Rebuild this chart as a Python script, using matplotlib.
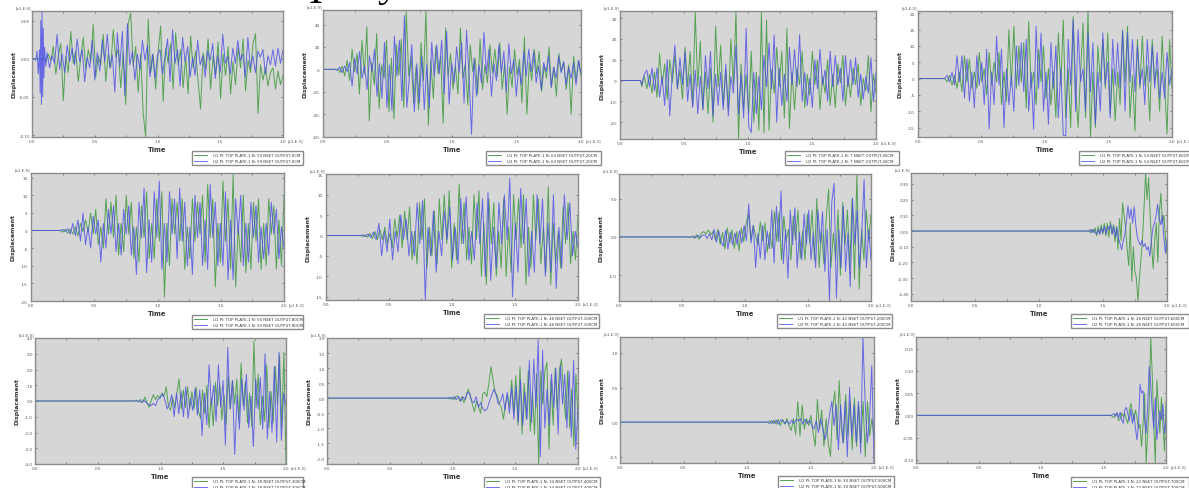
import numpy as np
import matplotlib
matplotlib.use('Agg')
import matplotlib.pyplot as plt

W, H = 1189, 489

# panel 1: 0cm
p1_onset = [0.10, 0.12]
p1_burst_t = [0.0, 0.02, 0.03, 0.04, 0.05, 0.06, 0.065, 0.07, 0.075, 0.08, 0.085, 0.09, 0.095, 0.10, 0.11]
p1_burst = [0, 0, -.002, .010, -.020, .012, -.045, .050, -.060, .0626, -.050, .040, -.025, .015, -.010]
p1_u1 = [-.004,.006,-.002,.016,-.020,.004,.020,-.055,.003,-.018,
         .036,-.006,.010,-.030,.002,.028,-.014,.012,-.004,.045,
         -.024,.004,-.008,.032,-.030,.006,-.012,.038,.002,.012,
         -.038,.008,-.060,.046,.060,-.010,.016,-.044,.006,-.072,
         -.1026,.052,-.018,.006,-.040,.010,.043,-.056,.014,-.006,
         .020,-.040,.034,-.008,.012,-.038,.002,-.046,.030,-.012,
         .010,-.030,-.066,.008,-.014,.026,-.040,.004,-.020,.022,
         -.052,.006,-.022,.016,-.046,-.004,-.034,.014,-.012,.026,
         -.042,-.002,-.018,.020,.033,-.072,-.008,-.028,-.012,-.036,
         -.018,-.012,-.040,-.016,-.034,-.022]
p1_u2 = [.008,-.012,.004,-.006,.032,-.014,.006,-.018,.018,-.004,
         .014,-.008,.026,-.004,.012,-.030,.002,-.012,.024,-.028,
         .008,-.016,.024,-.004,.032,-.012,.005,-.044,.034,-.010,
         .036,-.048,.046,-.008,.010,-.028,.006,-.014,.024,-.002,
         .018,-.024,.006,-.026,.004,.012,-.020,.003,.026,-.030,
         .038,-.006,.012,-.036,.028,-.004,.016,-.024,.002,-.022,
         .024,-.008,.004,-.024,.010,-.002,.020,-.026,.004,-.018,
         .032,-.006,.003,-.020,.014,-.006,.024,-.002,.006,-.024,
         .028,-.012,.004,-.018,.010,.002,.012,-.020,.004,-.008,
         .012,-.010,.014,-.006,.012]

# panel 2: 20cm
p2_onset = [0.12, 0.10]
p2_u1 = [-3,3,-6,8,-10,18,-2,14,-22,26,
         -4,38,-46,6,-14,32,-35,4,-8,26,
         -38,10,-44,22,-5,27,-34,52,-6,12,
         -30,3,-36,24,-10,52,-50,8,-26,20,
         -4,12,-48,37,-6,14,-18,3,-22,37,
         -8,5,-32,22,-2,10,-22,27,-18,4,
         -12,22,-3,18,-6,24,-18,6,-40,2,
         -16,18,-5,9,-30,29,-40,6,-10,18,
         -4,16,-20,3,-8,20,-16,2,-24,14,
         -2,6,-18,4,-40,12,-10,8,-6]
p2_u2 = [-1,2,-3,3,-2,6,-15,10,-4,16,
         -8,3,-18,12,-2,18,-24,5,-26,24,
         -34,4,-37,30,-6,26,-28,48,-34,-8,
         22,-38,5,-30,12,-36,4,-34,24,-6,
         22,-4,26,-22,34,-31,6,-12,20,-3,
         24,-30,35,-6,-58,10,-24,4,-12,33,
         -4,18,-24,5,-10,22,-3,16,-20,23,
         -4,9,-24,3,-14,16,-6,18,-2,16,
         -12,3,-18,6,-2,12,-16,2,-8,12,
         -3,7,-14,2,-8,6,-14,8,-4]

# panel 3: 40cm
p3_onset = [0.16, 0.16]
p3_u1 = [-3,2,-4,3,-6,4,-8,13,-2,8,
         -9,10,-1,12,-4,5,-9,16,-3,14,
         -12,33,-3,19,-14,4,-16,6,-20,26,
         -3,17,-12,5,-14,20,-2,33,-28,8,
         -14,3,-16,14,-20,4,-24,33,-25,29,
         -24,5,-6,16,-3,14,-18,25,-23,4,
         -14,6,-2,14,-13,3,-7,14,-2,10,
         -14,2,-6,10,-12,3,-13,8,-1,12,
         -12,2,-8,6,-2,8,-12,1,-5,12,-15,3,-6]
p3_u2 = [-2,3,5,-3,6,-5,6,-8,2,-12,
         10,-17,3,17,-4,11,-2,14,-10,3,
         -13,5,-16,2,-14,12,-4,14,-17,3,
         -12,4,-14,8,-17,2,-6,17,-16,3,
         -18,25,-22,-25,4,-16,2,-14,12,-3,
         18,-4,22,-20,6,-12,3,-10,16,-2,
         15,-3,22,-10,4,-12,1,-13,10,-4,
         15,-2,5,-10,14,-3,12,-2,6,-10,
         12,-3,10,-2,11,-8,3,-9,2,-6,11,-10,4]

# panel 4: 60cm
p4_onset = [0.20, 0.20]
p4_u1 = [0,-1,1,-2,1,-3,2,-4,7,-1,
         6,-3,2,-3,8,-1,3,-5,8,-2,
         5,-1,8,-8,2,-7,15,-2,16,-3,
         10,-1,11,-9,17.5,-3,2,-8,9,-1,
         10,-6,3,-8,2,-12,14,-2,18,-12,
         3,-15,19,-3,-15,2,17,-12,20.7,-17.9,
         2,-15,10,-1,12,-3,14,-11,3,-13,
         2,-8,15,-1,16,-12,1,-16,12,-3,
         13,-2,4,-13,12,-1,3,-10,13,-2,-17,12,-3]
p4_u2 = [0,1,-1,2,-2,7,-1,7,-6,6,
         -7,2,-9,7,-2,5,-8,9,-15.5,2,
         -8,13,-2,9,-15,3,-8,1,-10,10,
         -2,11,-4,12,-10,2,-15.5,16,-3,14,
         -10,2,-14,11,-3,10,-12,3,-17.5,-17.5,
         12,-2,18,-10,15,-1,3,-10,14,-4,
         11,-14,2,-10,14,-2,5,-12,12,-2,
         11,-3,14.5,-10,14,-1,12,-4,10,-2,
         3,-8,12,-1,10,-3,8,-6,2,-6,8,-2,3]

# panel 5: 80cm
p5_onset = [0.22, 0.22]
p5_u1 = [0,-.5,.3,-.8,.4,-1,1,-1.5,2,-.3,
         3,-.5,5,-1,6,-4,1,-5,9,-1,
         8,-2,10,-7,2,-6,10,-1,8,-8,
         1,-9,7,-2,11,-8,2,-8,9,-3,
         11,-19,2,-10,9,-1,8,-3,9,-11,
         1,-8,9,-3,8,-1,10,-9,13,-2,
         9,-16,2,-9,14,-3,9,-11,16,-16,
         1,-9,10,-12,2,-11,8,-3,9,-11,
         2,-10,9,-1,7,-11,3,-10,10]
p5_u2 = [0,.3,-.3,.5,-1,2,-1.5,3,-3,5,
         -4,1,-5,4,-1,3,-9,2,-5,6,
         -1,7,-6,2,-7,6,-1,7,-7,1,
         -12.5,8,-2,12,-12,3,-9,11,-2,14,
         -11,2,-9,11,-1,9,-8,12,-3,8,
         -10,1,-12.5,10,-2,8,-10,3,-11,13,
         -2,8,-10,2,-10,11,-14,3,-14,9,
         -1,10,-10,2,-9,8,-2,7,-9,1,
         -8,2,-7,8,-1,6,-8,1,-5]

# panel 6: 100cm
p6_onset = [0.28, 0.28]
p6_u1 = [-.3,.2,-.4,.5,-.8,1,-1,1.5,-1,2,
         -2,.5,-3,4,-.5,5,-3,6,-1,7,
         -6,1,-7,8,-1,9,-8,2,-5,6,
         -7,9,-1,10,-2,11,-8,3,-6,12.5,
         -2,8,-6,2,-7,10,-1,11,-10,3,
         -12,9,-2,8,-10,1,-8,9,-10,2,
         -9,10,-1,9,-3,10,-12,2,-8,10,
         -1,9,-7,2,-9,12,-12,3,-7,1,
         -8,7,-2,8,-7,1,-6,5]
p6_u2 = [.2,-.3,.4,-.5,.8,-1,3,-5,1,-4,
         4,-6,1,-4,5,-1,4,-5,1,-5,
         8,-2,8.5,-15.8,2,-5,6,-9,1,-5,
         6,-1,7,-6,2,-7,9,-2,9.5,-6,
         1,-6,8,-2,9,-10,10.5,-11,2,-8,
         8,-2,10,-1,14,-15,3,-9,11.5,-2,
         9,-10,1,-9,10,-2,9,-10,3,-9,
         10,-13,2,-8,10,-1,8,-5,1,-3]

# panel 7: 200cm
p7_onset = [0.55, 0.58]
p7_u1 = [-.1,.1,-.2,.3,-.3,.5,.7,.4,.9,.3,
         .7,-.4,1,-1,.6,-1.6,1.2,-.8,.9,-1.5,
         .7,-1.8,1.2,-.6,1.8,3,-.4,1.5,.2,-1,
         2,-.5,1.8,-2,.5,-1.5,3.3,-.6,3.2,-3,
         2.7,-.5,1,-3,2.7,-.4,3.5,-2.8,.8,-3,
         3,-.8,3.5,-3,5,-4,.8,-3.5,2.5,6.2,
         -4,.5,-3,3.5,-5,4.5,-1,3.5,-4,5,
         -5.5,8.2,-6.8,1,-3,3.5,-.5,3]
p7_u2 = [.1,-.1,.2,-.1,.2,.3,-.2,.4,-.4,1,
         -.7,.8,-.6,-1.2,.9,-1.6,.6,-1,.5,-1,
         .8,-.8,1.5,-.5,4.3,-.8,1.5,-4,.5,-2.8,
         1.5,-3,.8,-1.5,3.5,-3.4,4,-.6,6,-3.5,
         1,-5.4,3.5,-1,3.8,-4,.6,-3,3,-1,
         3.5,-3,.5,-4,3.5,-.8,3.3,-4.5,1,-8.3,
         4.5,7,-8,1,-4,4,-4.5,.5,-6.5,5,
         -1,3.5,-4,.5,7.5,-4,1,-3]

# panel 8: 400cm
p8_onset = [1.38, 1.38]
p8_u1 = [0,-.01,.01,-.01,.02,-.03,.03,-.02,.04,-.02,
         .05,-.03,.05,-.04,.06,-.02,.04,-.07,.03,-.12,
         .08,-.06,.18,.10,.02,-.12,-.22,.05,-.32,-.10,
         -.25,-.30,-.445,-.30,-.18,-.05,.15,.369,.20,.34,
         .10,-.10,-.24,-.05,.05,-.20,.12,.24,.05,.10,-.05,-.15]
p8_u2 = [0,.01,-.01,.01,-.01,-.02,.01,-.02,.02,-.01,
         .03,-.02,.03,.01,.04,-.02,.03,-.04,.02,-.05,
         -.08,-.12,-.06,-.02,.06,.16,.08,.14,.05,.155,
         .04,-.04,-.07,-.09,-.06,-.10,-.08,-.12,-.10,-.16,
         -.06,.02,.05,.10,.17,.08,.04,.10,-.05,-.14,-.05]

# panel 9: 300cm
p9_onset = [0.78, 0.82]
p9_u1 = [0,.05,-.05,.1,-.1,.25,-.1,-.4,.05,.4,.1,.35,
         .2,.5,.3,.9,-.3,-.6,.2,-.4,.5,1.4,-.5,.7,-.4,.9,
         -.5,.6,-.5,.9,-.6,-1.1,.7,-.8,1,-1.7,.2,-1.6,1.2,-.3,
         1.1,-1.2,.4,-1.5,1.6,-.5,1.3,-.2,1.4,-1.2,2.4,-.3,1.2,-1.4,
         .5,-1.6,3.8,-.4,1.7,-1.5,.3,-1.3,2.3,-1.7,.6,-1.4,2.2,-.2,
         2.9,-1.6,3.1,-4]
p9_u2 = [0,-.1,.05,-.1,-.2,-.3,-.15,-.3,.1,.2,.45,.1,-.5,-.2,.4,
         -1,.5,-.8,.6,-1,.9,-1.1,.2,-.6,.8,-.9,.7,-2.2,.5,-1.5,
         2.3,-.3,1,-1.3,2.3,-.4,1.3,-2.8,3.4,-.5,1.3,-3.4,.4,-1.8,
         1.4,-.6,1.7,-1.7,.3,-2.9,1.4,-.5,1.5,-1.8,3,-2.4,.6,-2,2.2,-2.6,3.1,-2.5,.5,-.3]

# panel 10: 600cm
p10_onset = [0.95, 0.95]
p10_u1 = [0,-.03,.03,-.05,.05,.08,-.1,.05,-.15,.05,.3,.1,-.2,-.45,-.1,-.3,-.5,.15,
          .2,.05,.5,1.05,.6,.2,.1,-.2,-.3,-.7,-.2,.1,-.3,.6,-.5,.75,-.9,1.05,-1.2,.5,-.7,.9,
          -1.1,.2,-1.2,.8,-2.19,.9,-.2,.9,1.2,-1.7,.6,-.9,1.0,-.4,.9,1.3,.2,-.7,.9,-1,.3,-1.6,.8,-.7]
p10_u2 = [0,.03,-.03,.05,-.05,.05,-.1,.05,-.05,.2,.15,-.1,-.15,.05,-.3,-.15,-.35,-.42,
          -.35,-.1,.1,.3,.1,-.2,-.1,.15,-.4,.2,-.5,.35,-.7,.4,-.8,.6,-.9,.2,-.7,1.25,
          -.8,1.3,-.3,1.95,-1.95,1.6,-1.0,.3,-.9,.8,-.3,1.0,-1.2,1.1,-.2,.8,-1,.9,-1.3,1.25,-1.7,-.3]

# panel 11: 500cm
p11_onset = [1.15, 1.15]
p11_u1 = [0,.02,-.02,.03,-.03,.04,-.05,.04,-.03,.05,-.06,-.12,.05,-.18,.3,-.2,.25,-.1,.05,
          -.05,.1,-.15,-.35,.33,-.1,.18,-.35,.05,-.3,-.5,.2,.45,-.25,.6,-.1,-.3,.4,-.2,
          .3,-.4,.35,-.35,.25,-.3,.3,-.5,.3,-.2,.05,-.2]
p11_u2 = [0,-.02,.02,-.02,.03,-.03,.03,.02,-.02,.02,-.03,.03,-.02,.04,.02,.05,-.03,.04,-.02,
          .03,-.05,-.1,.02,-.15,.05,-.1,-.25,-.1,.1,.3,-.05,.25,-.4,.25,-.3,.3,-.5,.5,-.2,.25,
          -.3,.3,-.45,1.23,.3,-.3,.05,.82,-.59]

# panel 12: 700cm
p12_onset = [1.55, 1.55]
p12_u1 = [0,-.003,-.005,.003,.004,-.012,-.008,.006,-.003,.005,-.01,-.018,.01,.027,.008,-.012,.012,-.005,
          -.03,-.02,-.07,-.02,.05,-.107,-.04,.02,.176,.09,-.02,-.107,.08,.02,-.04,.04,-.02,-.08,.03]
p12_u2 = [0,.002,.004,-.002,.006,-.006,.007,-.01,-.018,.012,.018,.004,-.012,.014,-.018,.004,-.028,-.055,
          -.02,.07,.05,.055,-.01,-.04,.02,.11,.07,.01,-.03,.04,-.055,-.02,.01,-.01,.025,-.04,-.015]

panel_onsets = [p1_onset, p2_onset, p3_onset, p4_onset, p5_onset, p6_onset,
                p7_onset, p8_onset, p9_onset, p10_onset, p11_onset, p12_onset]
panel_u1 = [p1_u1, p2_u1, p3_u1, p4_u1, p5_u1, p6_u1, p7_u1, p8_u1, p9_u1, p10_u1, p11_u1, p12_u1]
panel_u2 = [p1_u2, p2_u2, p3_u2, p4_u2, p5_u2, p6_u2, p7_u2, p8_u2, p9_u2, p10_u2, p11_u2, p12_u2]

node_ids = [59, 63, 7, 54, 50, 46, 42, 26, 38, 34, 30, 22]
depths = ['0CM', '20CM', '40CM', '60CM', '80CM', '100CM', '200CM', '600CM', '300CM', '400CM', '500CM', '700CM']
exponents = ['[x1.E-6]'] + ['[x1.E-9]'] * 11

ylims = [(-.1026, .0626), (-60.4, 53), (-28.1, 33.4), (-17.9, 20.7), (-19.9, 16.3), (-15.8, 15.05),
         (-8.35, 8.2), (-.445, .369), (-4, 4), (-2.19, 2.0), (-.59, 1.23), (-.107, .176)]
yticks = [[-.10, -.05, 0, .05], [-60, -40, -20, 0, 20, 40], [-20, -10, 0, 10, 20, 30],
          [-15, -10, -5, 0, 5, 10, 15, 20], [-20, -15, -10, -5, 0, 5, 10, 15], [-15, -10, -5, 0, 5, 10, 15],
          [-5, 0, 5], [-.4, -.3, -.2, -.1, 0, .1, .2, .3], [-4, -3, -2, -1, 0, 1, 2, 3, 4],
          [-2, -1.5, -1, -.5, 0, .5, 1, 1.5, 2], [-.5, 0, .5, 1], [-.10, -.05, 0, .05, .10, .15]]
ytick_fmt = ['%.2f', '%.0f.', '%.0f.', '%.0f.', '%.0f.', '%.0f.', '%.1f', '%.2f', '%.1f', '%.1f', '%.1f', '%.2f']

# left, right, top, bottom in pixels
boxes = [(32, 283, 12, 138), (323, 581, 11, 138), (620, 876, 12, 140), (918, 1172, 12, 138),
         (31, 284, 174, 302), (326, 578, 175, 301), (619, 871, 175, 302), (911, 1167, 174, 302),
         (35, 286, 339, 465), (327, 578, 339, 465), (620, 874, 338, 464), (916, 1166, 338, 464)]
# left, right, top of the legend frames
leg_boxes = [(193, 302, 153), (487, 600, 153), (786, 898, 153), (1080, 1196, 153),
             (193, 302, 317), (485, 598, 316), (778, 891, 316), (1072, 1188, 316),
             (193, 302, 479), (485, 599, 479), (779, 893, 478), (1072, 1188, 479)]

green = '#55a255'
blue = '#4a4ce6'
grey = '#8c8c8c'

fig = plt.figure(figsize=(W / 100, H / 100), dpi=100)

for i in range(12):
    l, r, t, b = boxes[i]
    ax = fig.add_axes([l / W, 1 - b / H, (r - l) / W, (b - t) / H], facecolor='#d6d6d6')

    x1 = np.r_[0.0, panel_onsets[i][0], np.linspace(panel_onsets[i][0] + .01, 2.0, len(panel_u1[i]))]
    y1 = np.r_[0.0, 0.0, panel_u1[i]]
    if i == 0:
        # first panel has a sharp burst right at the start
        x2 = np.r_[p1_burst_t, np.linspace(p1_onset[1], 2.0, len(p1_u2))]
        y2 = np.r_[p1_burst, p1_u2]
    else:
        x2 = np.r_[0.0, panel_onsets[i][1], np.linspace(panel_onsets[i][1] + .01, 2.0, len(panel_u2[i]))]
        y2 = np.r_[0.0, 0.0, panel_u2[i]]

    name1 = 'U1 PI: TOP PLATE-1 N: %d NSET OUTPUT-%s' % (node_ids[i], depths[i])
    name2 = 'U2 PI: TOP PLATE-1 N: %d NSET OUTPUT-%s' % (node_ids[i], depths[i])
    ax.plot(x1, y1, color=green, lw=0.7, label=name1)
    ax.plot(x2, y2, color=blue, lw=0.7, alpha=0.8, label=name2)

    ax.set_xlim(0, 2.0)
    ax.set_ylim(*ylims[i])
    ax.set_xticks([0, .5, 1, 1.5, 2])
    ax.set_xticklabels(['0.0', '0.5', '1.0', '1.5', '2.0'])
    ax.set_xticks([.25, .75, 1.25, 1.75], minor=True)
    ax.set_yticks(yticks[i])
    ax.set_yticklabels([ytick_fmt[i] % v for v in yticks[i]])
    ax.tick_params(which='both', direction='in', top=True, right=True, length=1.5, width=0.5,
                   color='#555555', labelsize=3.0, labelcolor='#555555', pad=1.5)
    for s in ax.spines.values():
        s.set_color(grey)
        s.set_linewidth(1.0)

    ax.set_xlabel('Time', fontsize=4.8, fontweight='bold', color='#333333', labelpad=2)
    ax.set_ylabel('Displacement', fontsize=4.4, fontweight='bold', color='#333333')
    ax.yaxis.set_label_coords(-0.062, 0.5)
    ax.text(1.018, -0.028, '[x1.E-3]', transform=ax.transAxes, fontsize=2.8, color='#555555', va='center')
    ax.text(-0.002, 1.012, exponents[i], transform=ax.transAxes, fontsize=2.8, color='#555555', ha='right', va='bottom')

    # anchor box runs upward from its y, so give the bottom edge of the frame
    lx0, lx1, ly0 = leg_boxes[i]
    ax.legend(loc='upper left', bbox_to_anchor=((lx0 - 1) / W, 1 - (ly0 + 13) / H, (lx1 - lx0 + 2) / W, 14 / H),
              bbox_transform=fig.transFigure, mode='expand', fontsize=2.8, fancybox=False,
              edgecolor=grey, framealpha=1, handlelength=3.4, handletextpad=1.5,
              labelspacing=0.55, borderpad=0.55, borderaxespad=0, labelcolor='#333333')
    ax.get_legend().get_frame().set_linewidth(1.0)

# big heading above the charts is cut off by the top edge, only the feet are visible
fig.text(309 / W, 1 - 3 / H, 'I', fontsize=30, family='Liberation Serif', color='black', va='baseline')
fig.text(378 / W, 1 + 4 / H, 'y', fontsize=30, family='Liberation Serif', color='black', va='baseline')

fig.savefig('out.png', dpi=100)
